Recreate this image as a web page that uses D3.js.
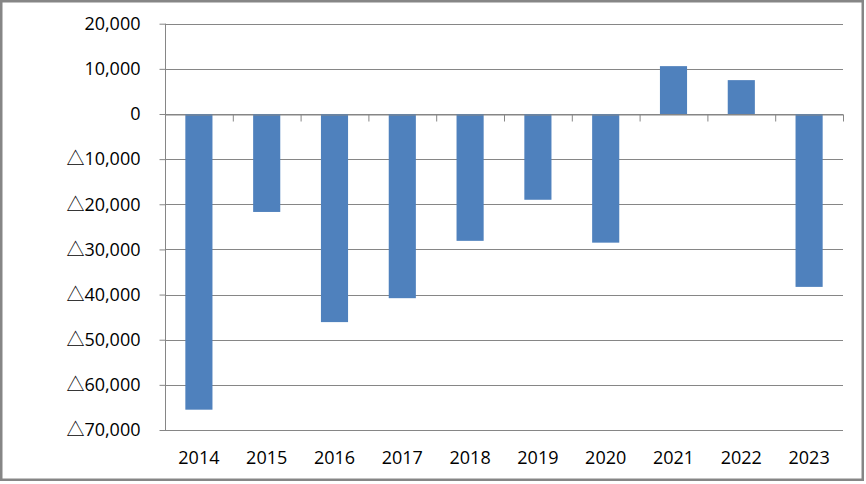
<!DOCTYPE html>
<html><head><meta charset="utf-8">
<script src="https://cdn.jsdelivr.net/npm/d3@7"></script>
<style>body{margin:0;background:#fff}svg{display:block}</style>
</head><body>
<script>
const categories = ["2014","2015","2016","2017","2018","2019","2020","2021","2022","2023"];
const values = [-65500,-21700,-46100,-40800,-28100,-19000,-28500,10600,7500,-38300];
const yTicks = [20000,10000,0,-10000,-20000,-30000,-40000,-50000,-60000,-70000];

const W = 866, H = 484;
const L = 165, R = 843, T = 23.7, B = 430;
const font = "'Open Sans', sans-serif";
const fs = 18;
const svg = d3.select("body").append("svg").attr("width", W).attr("height", H);

svg.append("rect").attr("x",1.25).attr("y",1.25).attr("width",W-4.5).attr("height",H-5.5)
  .attr("fill","#fff").attr("stroke","#868686").attr("stroke-width",2.5);

const y = d3.scaleLinear().domain([-70000,20000]).range([B,T]);
const x = d3.scaleBand().domain(categories).range([L,R]).paddingInner(0.6).paddingOuter(0.3);
const xi = d3.scaleLinear().domain([0,categories.length]).range([L,R]);

// gridlines
svg.append("g").selectAll("line").data(yTicks).join("line")
  .attr("x1",L).attr("x2",R).attr("y1",d=>Math.round(y(d))+0.5).attr("y2",d=>Math.round(y(d))+0.5)
  .attr("stroke","#868686").attr("stroke-width",1);

const yAxis = svg.append("g").attr("transform",`translate(${L+0.5},0)`)
  .call(d3.axisLeft(y).tickValues(yTicks).tickFormat("").tickSize(6).tickPadding(19));
yAxis.select(".domain").attr("stroke","#868686").attr("d",`M0,${y(20000)}V${y(-70000)}`);
yAxis.selectAll(".tick line").attr("stroke","#868686");
yAxis.selectAll(".tick").each(function(d){
  const t = d3.select(this).select("text")
    .attr("font-family",font).attr("font-size",fs).attr("fill","#000").text(null);
  if (d < 0) t.append("tspan").attr("font-family","'Noto Sans CJK JP', sans-serif").text("△");
  t.append("tspan").text(d3.format(",")(Math.abs(d)));
});

// bars
svg.append("g").selectAll("rect").data(values).join("rect")
  .attr("x",(d,i)=>x(categories[i]))
  .attr("width",x.bandwidth())
  .attr("y",d=>y(Math.max(0,d)))
  .attr("height",d=>Math.abs(y(d)-y(0)))
  .attr("fill","#4F81BD");

// category axis at zero
const xAxis = svg.append("g").attr("transform",`translate(0,${Math.round(y(0))+0.5})`)
  .call(d3.axisBottom(xi).tickValues(d3.range(categories.length+1)).tickFormat("").tickSize(7).tickSizeOuter(0));
xAxis.select(".domain").attr("stroke","#868686");
xAxis.selectAll(".tick line").attr("stroke","#868686");

// category labels at bottom
const xl = svg.append("g").attr("transform",`translate(0,${B})`)
  .call(d3.axisBottom(x).tickSize(0).tickPadding(21));
xl.select(".domain").remove();
xl.selectAll("text").attr("font-family",font).attr("font-size",fs).attr("fill","#000");
</script>
</body></html>
